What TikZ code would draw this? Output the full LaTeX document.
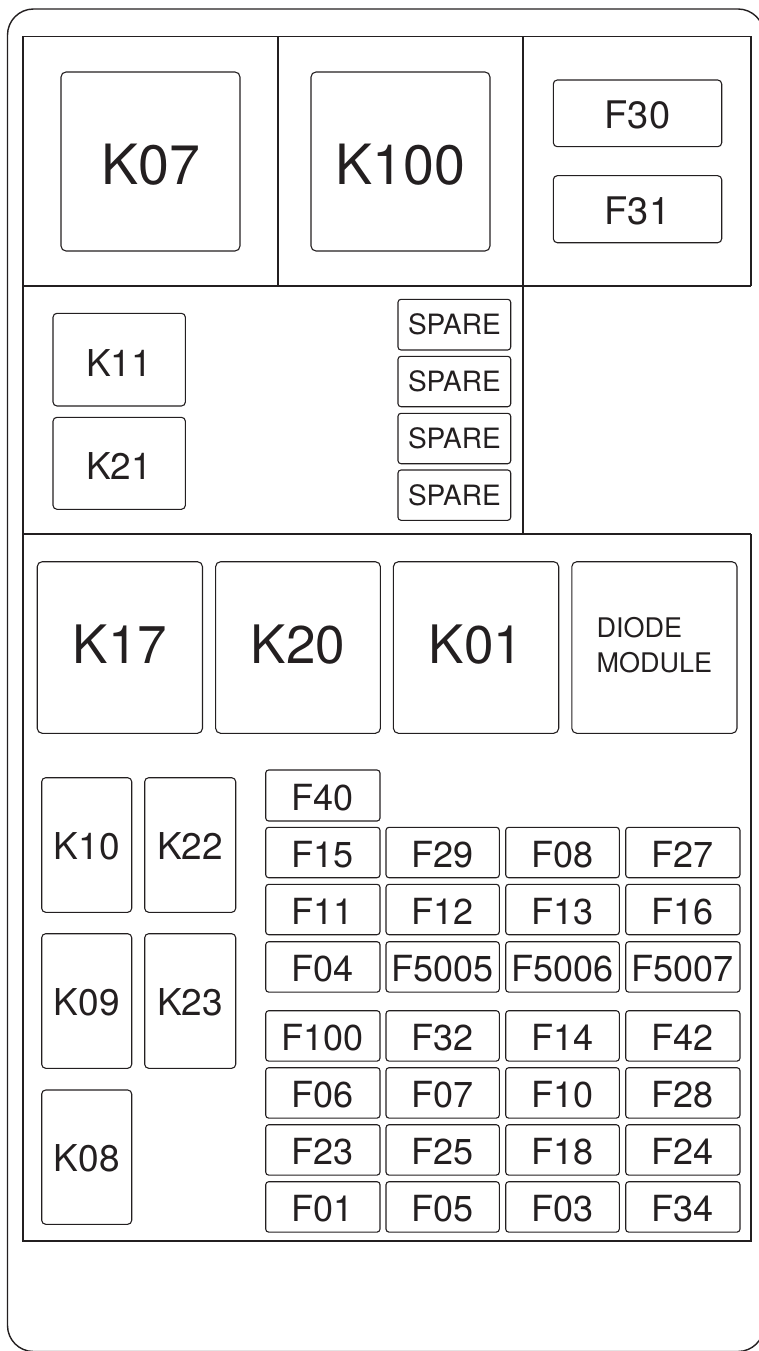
\documentclass[tikz,border=0pt]{standalone}
\usepackage{fontspec}
\setmainfont{TeX Gyre Heros}
\definecolor{ink}{HTML}{231F20}
\newcommand\bx[7]{%
  \node[#6, minimum width={(#4)-(#2)}, minimum height={(#5)-(#3)}] (#1)
    at ({((#2)+(#4))/2},{((#3)+(#5))/2}) {#7};}
\begin{document}
\begin{tikzpicture}[x=1pt,y=-1pt,
  frm/.style={draw=ink, line width=1.4pt},
  box/.style={draw=ink, line width=1.1pt, rounded corners=3pt, inner sep=0pt, outer sep=0pt, text=ink, text depth=0pt},
  bigbox/.style={box, rounded corners=5pt, font=\fontsize{55.5}{60}\selectfont, text height=47pt},
  rowbox/.style={box, rounded corners=5pt, font=\fontsize{53}{58}\selectfont, text height=31.7pt},
  topfuse/.style={box, rounded corners=4pt, font=\fontsize{38}{42}\selectfont, text height=31.3pt},
  relbox/.style={box, rounded corners=4pt, font=\fontsize{37}{42}\selectfont, text height=33pt},
  smallrel/.style={box, rounded corners=4pt, font=\fontsize{37}{42}\selectfont, text height=29.5pt},
  spare/.style={box, font=\fontsize{28}{32}\selectfont, text height=20pt},
  fuse/.style={box, font=\fontsize{36}{40}\selectfont, text height=30pt},
  diode/.style={box, rounded corners=5pt, font=\fontsize{27}{35}\selectfont, align=left, text height=, text depth=6pt}
]
\useasboundingbox (0,0) rectangle (758,1351);
% outer housing
\draw[frm, rounded corners=26pt] (7.5,9) rectangle (764,1351.5);
% section frames
\draw[frm] (751,286) -- (751,36.7) -- (23,36.7) -- (23,1241) -- (751,1241) -- (751,534);
\draw[frm] (23,286) -- (751,286);
\draw[frm] (23,534) -- (751,534);
\draw[frm] (278,36.7) -- (278,286);
\draw[frm] (523,36.7) -- (523,534);
% top section
\bx{K07}{61}{72}{240}{251}{bigbox}{K07}
\bx{K100}{311}{72}{490}{251}{bigbox}{K100}
\bx{F30}{553.3}{80}{721.7}{146.7}{topfuse}{F30}
\bx{F31}{553.3}{175.7}{721.7}{242.7}{topfuse}{F31}
% middle section
\bx{K11}{53}{313.3}{185.4}{406}{relbox}{K11}
\bx{K21}{53}{417.3}{185.4}{509.3}{relbox}{K21}
\bx{S1}{398}{299.3}{510.7}{350}{spare}{SPARE}
\bx{S2}{398}{356.3}{510.7}{406.7}{spare}{SPARE}
\bx{S3}{398}{413.3}{510.7}{463.7}{spare}{SPARE}
\bx{S4}{398}{470}{510.7}{520.3}{spare}{SPARE}
% bottom section: large relays
\bx{K17}{37.2}{561.7}{202.5}{733.3}{rowbox}{K17}
\bx{K20}{215.6}{561.7}{380.4}{733.3}{rowbox}{K20}
\bx{K01}{393.4}{561.7}{558.7}{733.3}{rowbox}{K01}
\bx{DM}{571.8}{561.7}{737}{733.3}{diode}{DIODE\\MODULE}
% small relays
\bx{K10}{41.7}{777.7}{131.7}{912.3}{smallrel}{K10}
\bx{K22}{144.7}{777.7}{235.7}{912.3}{smallrel}{K22}
\bx{K09}{41.7}{933.7}{131.7}{1068.3}{smallrel}{K09}
\bx{K23}{144.7}{933.7}{235.7}{1068.3}{smallrel}{K23}
\bx{K08}{41.7}{1090}{131.7}{1224.3}{smallrel}{K08}
% fuses
\bx{F40}{265.7}{770}{380}{821}{fuse}{F40}
\foreach \yy/\a/\b/\c/\d in {827.3/F15/F29/F08/F27, 884.3/F11/F12/F13/F16,
   941.7/F04/F5005/F5006/F5007, 1010.7/F100/F32/F14/F42, 1067.7/F06/F07/F10/F28,
   1124.7/F23/F25/F18/F24, 1181.7/F01/F05/F03/F34}{
  \bx{\a}{265.7}{\yy}{380}{\yy+50.4}{fuse}{\a}
  \bx{\b}{386}{\yy}{499.3}{\yy+50.4}{fuse}{\b}
  \bx{\c}{505.7}{\yy}{619.3}{\yy+50.4}{fuse}{\c}
  \bx{\d}{625.7}{\yy}{740}{\yy+50.4}{fuse}{\d}
}
\end{tikzpicture}
\end{document}
